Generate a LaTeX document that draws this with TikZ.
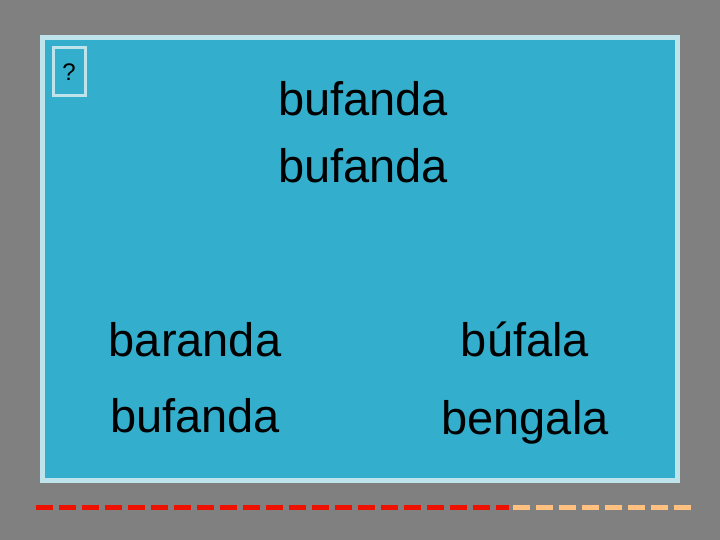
\documentclass[tikz,border=0pt]{standalone}
\usepackage{fontspec}
\setmainfont{Liberation Sans}
\definecolor{bg}{HTML}{808080}
\definecolor{panel}{HTML}{33AECC}
\definecolor{rim}{HTML}{BFE3EA}
\definecolor{dred}{HTML}{EE1100}
\definecolor{dpeach}{HTML}{FFC080}
\begin{document}
\begin{tikzpicture}[x=1pt,y=-1pt,
 word/.style={font=\fontsize{47}{50}\selectfont,inner sep=0pt,anchor=base}]
\fill[bg] (0,0) rectangle (720,540);
\useasboundingbox (0,0) rectangle (720,540);
\draw[rim,line width=5pt,fill=panel] (42.5,37.5) rectangle (677.5,480.5);
\node[draw=rim,line width=3pt,minimum width=32pt,minimum height=48pt,inner sep=0pt,font=\fontsize{24}{26}\selectfont] (q) at (69,72) {?};
\node[word] (t1) at (363,116) {bufanda};
\node[word] (t2) at (363,183) {bufanda};
\node[word] (a1) at (195,356) {baranda};
\node[word] (a2) at (525,356) {búfala};
\node[word] (a3) at (195,432) {bufanda};
\node[word] (a4) at (525,434) {bengala};
\draw[dred,line width=5pt,dash pattern=on 17pt off 6pt] (36,507) -- (509,507);
\draw[dpeach,line width=5pt,dash pattern=on 17pt off 6pt] (513,507) -- (692,507);
\end{tikzpicture}
\end{document}
